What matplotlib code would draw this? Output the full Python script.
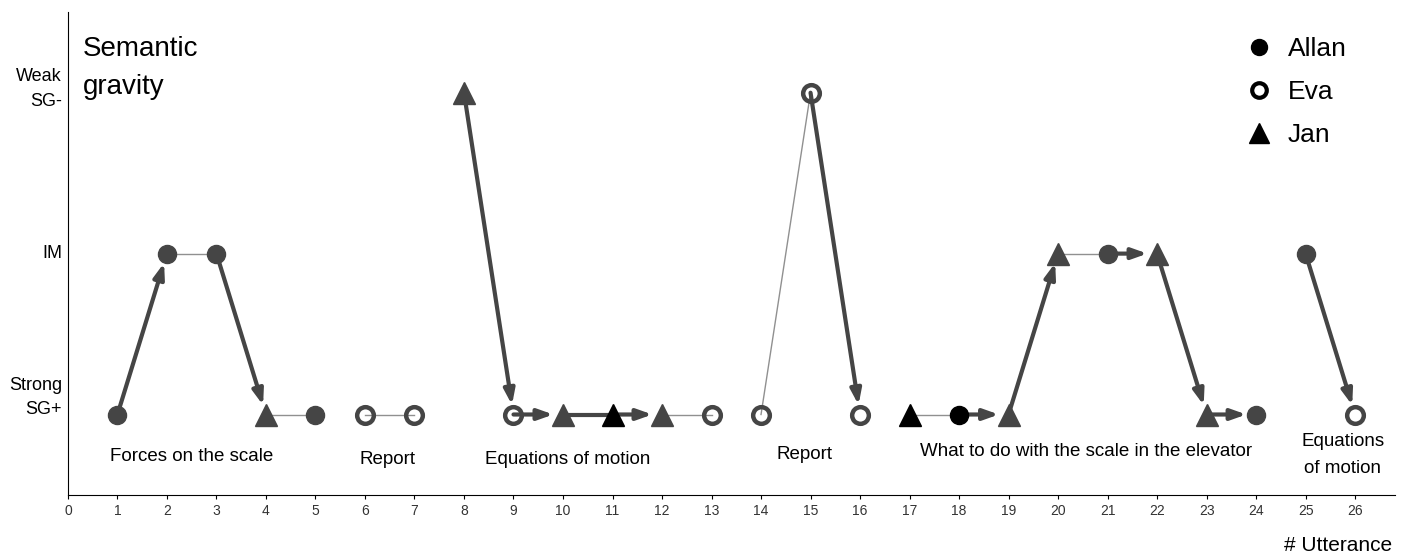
import matplotlib.pyplot as plt
import matplotlib.transforms as mtransforms
from matplotlib.lines import Line2D

plt.rcParams['font.family'] = ['Liberation Sans', 'DejaVu Sans']

# utterance number, semantic gravity level (0 = strong SG+, 1 = IM, 2 = weak SG-), speaker
utterances = list(range(1, 27))
levels = [0, 1, 1, 0, 0, 0, 0, 2, 0, 0, 0, 0, 0, 0, 2, 0, 0, 0, 0, 1, 1, 1, 0, 0, 1, 0]
speakers = ['Allan', 'Allan', 'Allan', 'Jan', 'Allan', 'Eva', 'Eva', 'Jan', 'Eva', 'Jan',
            'Jan', 'Jan', 'Eva', 'Eva', 'Eva', 'Eva', 'Jan', 'Allan', 'Jan', 'Jan',
            'Allan', 'Jan', 'Jan', 'Allan', 'Allan', 'Eva']
black_points = [11, 17, 18]

# links between utterances: (from, to, kind)
# 'arrow' = thick with head, 'thick' = thick without head, 'thin' = plain thin line
links = [(1, 2, 'arrow'), (2, 3, 'thin'), (3, 4, 'arrow'), (4, 5, 'thin'), (6, 7, 'thin'),
         (8, 9, 'arrow'), (9, 10, 'arrow'), (10, 11, 'thick'), (11, 12, 'arrow'),
         (12, 13, 'thin'), (14, 15, 'thin'), (15, 16, 'arrow'), (17, 18, 'thin'),
         (18, 19, 'arrow'), (19, 20, 'arrow'), (20, 21, 'thin'), (21, 22, 'arrow'),
         (22, 23, 'arrow'), (23, 24, 'arrow'), (25, 26, 'arrow')]

# episode labels: (x, y, text)
episodes = [(2.5, -0.26, 'Forces on the scale'), (6.45, -0.28, 'Report'),
            (10.1, -0.28, 'Equations of motion'), (14.87, -0.25, 'Report'),
            (20.57, -0.23, 'What to do with the scale in the elevator'),
            (25.75, -0.25, 'Equations\nof motion')]

ytick_pos = [0, 1, 2]
ytick_labels = ['Strong\nSG+', 'IM', 'Weak\nSG-']
ytick_shift_px = [17, 0, 4]  # labels sit a little above their level

GREY = '#454545'

fig = plt.figure(figsize=(14.01, 5.58), dpi=100)
ax = fig.add_axes([0.0485, 0.113, 0.947, 0.865])

lv = dict(zip(utterances, levels))

for a, b, kind in links:
    if kind == 'arrow':
        ax.annotate('', xy=(b, lv[b]), xytext=(a, lv[a]),
                    arrowprops=dict(arrowstyle='-|>,head_length=0.9,head_width=0.32',
                                    color=GREY, lw=3, shrinkA=0, shrinkB=7),
                    zorder=2)
    elif kind == 'thick':
        ax.plot([a, b], [lv[a], lv[b]], color=GREY, lw=3, zorder=2)
    else:
        ax.plot([a, b], [lv[a], lv[b]], color='#909090', lw=1, zorder=1)

for x, y, who in zip(utterances, levels, speakers):
    c = 'black' if x in black_points else GREY
    if who == 'Allan':
        ax.plot(x, y, 'o', ms=13, color=c, zorder=3)
    elif who == 'Eva':
        ax.plot(x, y, 'o', ms=12, mfc='none', mec=c, mew=3.2, zorder=3)
    else:
        ax.plot(x, y, '^', ms=16, color=c, zorder=3)

for x, y, t in episodes:
    ax.text(x, y, t, ha='center', va='center', fontsize=13.5, linespacing=1.8)

fig.text(0.0592, 0.878, 'Semantic\ngravity', fontsize=20, ha='left', va='center',
         linespacing=1.62)

ax.set_xlim(0, 26.8)
ax.set_ylim(-0.5, 2.5)
ax.set_xticks(range(0, 27))
ax.tick_params(axis='x', labelsize=10, length=3, labelcolor='#333333')
ax.set_yticks(ytick_pos)
ax.set_yticklabels([])
ax.tick_params(axis='y', length=0)
ytrans = mtransforms.blended_transform_factory(ax.transAxes, ax.transData)
for y, lab, dy in zip(ytick_pos, ytick_labels, ytick_shift_px):
    off = mtransforms.offset_copy(ytrans, fig=fig, x=-6, y=dy, units='dots')
    ax.text(0, y, lab, transform=off, ha='right', va='center', fontsize=13, linespacing=1.6)
for s in ['top', 'right']:
    ax.spines[s].set_visible(False)

fig.text(0.955, 0.023, '# Utterance', fontsize=15, ha='center', va='center')

handles = [Line2D([], [], ls='', marker='o', ms=11.5, color='black'),
           Line2D([], [], ls='', marker='o', ms=10.5, mfc='none', mec='black', mew=3),
           Line2D([], [], ls='', marker='^', ms=14, color='black')]
fig.legend(handles, ['Allan', 'Eva', 'Jan'], loc='upper left', frameon=False, fontsize=19,
           bbox_to_anchor=(0.878, 0.953), borderaxespad=0, handlelength=1.4,
           handletextpad=0.39, labelspacing=0.72)

fig.savefig('out.png')
